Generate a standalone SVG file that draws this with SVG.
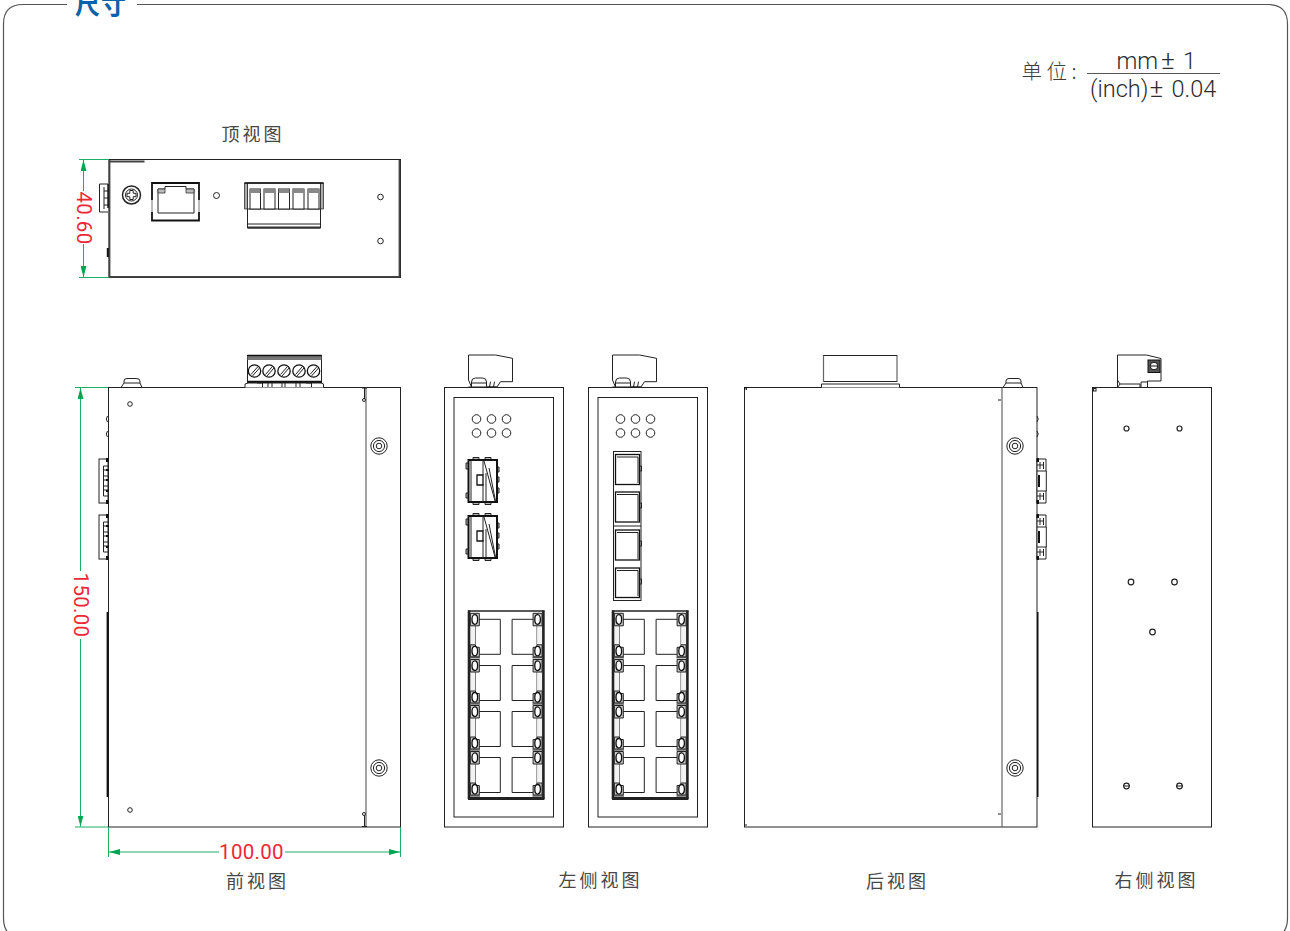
<svg xmlns="http://www.w3.org/2000/svg" xmlns:xlink="http://www.w3.org/1999/xlink" width="1290" height="931" viewBox="0 0 1290 931">
<style>
.l{fill:none;stroke:#222;stroke-width:1}
.w{fill:#fff;stroke:#222;stroke-width:1}
.t{fill:none;stroke:#111;stroke-width:1.8}
.k{fill:#111;stroke:none}
.g{fill:none;stroke:#1fae66;stroke-width:1}
.gs{fill:none;stroke:#1fae66;stroke-width:1;marker-end:url(#ar)}
.d{font-family:Roboto,"Liberation Sans",Arial,sans-serif;font-size:20.500px;font-weight:400;fill:#ee2737;text-anchor:middle;letter-spacing:.3px}
.c{font-family:"Noto Sans CJK SC","Noto Sans",sans-serif;font-size:18px;fill:#484848;text-anchor:middle;letter-spacing:3px}
.u{font-family:Roboto,"Liberation Sans",Arial,sans-serif;font-size:23.500px;font-weight:300;fill:#2c2c2c}
</style>
<defs>
<marker id="ar" markerUnits="userSpaceOnUse" markerWidth="12" markerHeight="6" refX="11" refY="3" orient="auto"><path d="M0 0L11 3L0 6Z" fill="#00a651"/></marker>
<g id="rjh">
<path d="M7.300 12.500V31.500" stroke="#222" fill="none"/>
<path d="M2.300 12.500H7.300V31.500H2.300Z" fill="#f2f2f2"/>
<path d="M2.300 0H11.300V12.500H2.300Z" fill="#ccc" stroke="#222"/><ellipse cx="6.800" cy="6.200" rx="2.800" ry="4.800" fill="#fff" stroke="#111" stroke-width="1.300"/>
<path class="l" d="M11.300 6H32.300V41H11.300"/>
<path d="M2.300 31.500H7.500V34H11.300V43.500H2.300Z" fill="#ccc" stroke="#222"/><ellipse cx="6.800" cy="37.800" rx="2.800" ry="4.800" fill="#fff" stroke="#111" stroke-width="1.300"/>
</g>
<g id="rjr"><use href="#rjh"/><use href="#rjh" transform="translate(76.400 0) scale(-1 1)"/><path class="l" d="M2 44.500H12M64.400 44.500H74.400" stroke-width="1.500"/></g>
<g id="rjb">
<rect x="0" y="0" width="76.400" height="188.500" fill="#fff"/>
<use href="#rjr" y="2.800"/><use href="#rjr" y="49"/><use href="#rjr" y="95"/><use href="#rjr" y="141"/>
<path d="M0 0.500H76.400" stroke="#222" stroke-width="1.500" fill="none"/>
<path d="M1 0V188.500M75.400 0V188.500" stroke="#222" stroke-width="2.600" fill="none"/>
<path d="M0 188H76.400" stroke="#222" stroke-width="3" fill="none"/>
</g>
<g id="sfp">
<path class="w" d="M5 0V-2.500H11V0M17 0V-2.500H23V0M5 42V44.500H11V42M17 42V44.500H23V42M0 3H-2V9H0M0 33H-2V38H0M29 7H31V12H29M29 17H31V22H29M29 28H31V33H29" style="fill:#bbb"/>
<rect x="0.500" y="0" width="28.500" height="42" fill="#fff" stroke="#111" stroke-width="2"/>
<path class="l" d="M3 0V42M15 0V15M15 24V42M18 13V42M16 1L27 41M21 8L27.500 41"/>
<path d="M9 15H15V25H9Z" fill="#fff" stroke="#111" stroke-width="1.300"/>
</g>
<g id="ledg"><circle class="l" cx="0" cy="0" r="4.300"/><circle class="l" cx="15" cy="0" r="4.300"/><circle class="l" cx="30" cy="0" r="4.300"/><circle class="l" cx="0" cy="14" r="4.300"/><circle class="l" cx="15" cy="14" r="4.300"/><circle class="l" cx="30" cy="14" r="4.300"/></g>
<g id="conc"><circle class="l" r="8.200"/><circle class="l" r="5.600"/><circle class="l" r="2.800"/></g>
<g id="sfpl">
<rect class="w" x="0" y="0" width="9" height="44"/>
<path class="l" d="M4.500 7V37M9 7H4.500M9 11H4.500M9 17H4.500M9 21H4.500M9 27H4.500M9 31H4.500M9 37H4.500"/>
<path class="k" d="M7 -1H9.500V3H7ZM7 10H9.500V12H7ZM7 20H9.500V22H7ZM7 31H9.500V33H7ZM7 41H9.500V45H7Z"/>
</g>
<g id="sfpr">
<path class="w" d="M0 0H9V12H9.300V32H9V44H0Z"/>
<path class="l" d="M0 12H9M0 32H9M3 3V10M3 34V41M6.500 3V10M6.500 34V41M0 6H6.500M0 37H6.500"/>
<path class="k" d="M-0.500 -1H2V3H-0.500ZM-0.500 41H2V45H-0.500ZM1 16H3V28H1Z"/>
</g>
<g id="topc">
<path class="w" d="M0 25V0H27L44 3.300V26.700H32L28.500 32H3L0 25Z"/>
<path class="w" d="M3 32V27Q3 23 7 23H14Q18 23 18 27V32"/>
<path class="l" d="M0 32H28M22 26.700L21 32M26 26.700L25 32"/>
<path d="M3 28H18" stroke="#222"/>
</g>
</defs>

<g id="frame">
<path class="l" style="stroke:#555;stroke-width:1.200" d="M67 4.500H23Q3.500 4.500 3.500 24V918Q3.500 938 23 938H1268Q1287.500 938 1287.500 918V24Q1287.500 4.500 1268 4.500H137"/>
<text x="101" y="14" style="font-family:'Noto Sans CJK SC',sans-serif;font-size:25px;font-weight:700;fill:#0a62a9;text-anchor:middle;letter-spacing:1px">尺寸</text>
</g>

<g id="unit">
<text x="1021.500" y="79" style="font-family:'Noto Sans CJK SC',sans-serif;font-size:20.500px;fill:#3c3c3c;font-weight:300;letter-spacing:4.500px">单位:</text>
<text class="u" x="1116.500" y="69">mm</text><text class="u" x="1161" y="69" style="font-size:26px">±</text><text class="u" x="1183" y="69">1</text>
<path d="M1087 73.500H1220" stroke="#555" stroke-width="1.200" fill="none"/>
<text class="u" x="1090" y="97">(inch)</text><text class="u" x="1149.500" y="97" style="font-size:26px">±</text><text class="u" x="1171.500" y="97">0.04</text>
</g>

<g id="top-view">
<rect class="l" x="109" y="159.500" width="291.500" height="118"/>
<path d="M109 161.500H144.500M399.500 160V277M109 276.800H400M109.500 160V277" stroke="#444" stroke-width="1.800" fill="none"/>
<path class="w" d="M108 184H99.500V212H108"/>
<path class="l" d="M104 187V209M104 191H109M104 198H109M104 205H109"/>
<path class="k" d="M107.300 184H108.800V208H107.300ZM106.800 248H108.800V257H106.800Z"/>
<circle cx="131.500" cy="195" r="9" fill="#fff" stroke="#222" stroke-width="1.500"/><circle class="l" cx="131.500" cy="195" r="6"/><path class="l" d="M129.800 190.500H133.200V193.300H136V196.700H133.200V199.500H129.800V196.700H127V193.300H129.800Z"/>
<path d="M152 200V183H199V200M152 212V220.500H199V212" stroke="#111" stroke-width="1.800" fill="none"/>
<path d="M152 200V212M199 200V212" stroke="#777" fill="none"/>
<path class="l" d="M158 213V189H165V186.500H186V189H194V213Z"/>
<path d="M158 189H165V193H158ZM186 189H194V193H186Z" fill="#bbb" stroke="#333" stroke-width=".8"/>
<circle class="l" cx="216.500" cy="195.500" r="3"/><circle class="l" cx="380.500" cy="197" r="2.800"/><circle class="l" cx="380.500" cy="241" r="2.800"/>
<path class="w" d="M247.500 183H320.500V228H247.500Z"/>
<path d="M244.500 183H247.500V209H244.500ZM320.500 183H323.500V209H320.500Z" fill="#aaa" stroke="#333" stroke-width=".8"/>
<path d="M244.500 183H323.500" stroke="#111" stroke-width="1.500" fill="none"/>
<path d="M247.500 227.500H320.500" stroke="#333" stroke-width="2"/>
<path class="l" d="M247.500 209H320.500M247.500 224H320.500"/>
<g fill="#fff" stroke="#222" stroke-width="1"><rect x="250" y="189" width="10.500" height="20"/><rect x="264" y="189" width="11" height="20"/><rect x="278.500" y="189" width="11" height="20"/><rect x="293" y="189" width="11" height="20"/><rect x="308" y="189" width="11" height="20"/></g>
<path d="M250 189H260.500V193H250ZM264 189H275V193H264ZM278.500 189H289.500V193H278.500ZM293 189H304V193H293ZM308 189H319V193H308Z" fill="#888"/>
</g>

<g id="front-view">
<rect class="l" x="108.500" y="387.500" width="292" height="439.500"/>
<path d="M366 387.500V827" stroke="#666" stroke-width="1.200"/>
<path d="M362 388H367M364.500 388V399M362 826.500H367M364.500 826.500V815" class="l"/><circle class="l" cx="364" cy="400" r="1.500"/><circle class="l" cx="364" cy="814" r="1.500"/>
<path class="w" d="M121 387.500L124 383V381Q124 378.500 127 378.500H136Q140 378.500 140 381V383L142 387.500Z"/><path class="l" d="M124 383H140"/>
<circle class="l" cx="130" cy="404" r="2.300"/><circle class="l" cx="130" cy="810" r="2.300"/>
<path class="w" d="M107.500 416Q105 419 107.500 422M107.500 431Q105 434 107.500 437"/>
<use href="#sfpl" x="99" y="459"/><use href="#sfpl" x="99" y="515"/>
<path class="k" d="M106.600 612H108.500V797H106.600Z"/>
<use href="#conc" x="379" y="446"/><use href="#conc" x="379" y="768"/>
<rect class="w" x="247.500" y="355.500" width="74" height="27"/>
<path d="M247.500 358H321.500" stroke="#777" stroke-width="4"/>
<path d="M247.500 355.500H321.500" stroke="#111" stroke-width="1.500"/>
<path d="M247.500 382H321.500" stroke="#111" stroke-width="2.500"/>
<g fill="#fff" stroke="#111" stroke-width="1.300"><circle cx="254.500" cy="371" r="6.200"/><circle cx="269" cy="371" r="6.200"/><circle cx="284" cy="371" r="6.200"/><circle cx="299" cy="371" r="6.200"/><circle cx="313.500" cy="371" r="6.200"/></g>
<path class="l" d="M251 374.500L258 366.500M252.500 376L259.500 368M265.500 374.500L272.500 366.500M267 376L274 368M280.500 374.500L287.500 366.500M282 376L289 368M295.500 374.500L302.500 366.500M297 376L304 368M310 374.500L317 366.500M311.500 376L318.500 368"/>
<path class="w" d="M245 387.500V384L248 383H321L323.500 384V387.500"/>
<path class="l" d="M257 383H262.500V387M268 383V387M272 383V387M282 383V387M285 383V387M296 383V387M300 383V387M306 383H311.500V387"/>
</g>

<g id="left-view">
<rect class="l" x="444.500" y="387.500" width="119" height="439.500"/>
<rect class="l" x="454" y="397.500" width="99.500" height="419.500"/>
<use href="#topc" x="468.500" y="355"/>
<use href="#ledg" x="476.500" y="419"/>
<use href="#sfp" x="468" y="460"/><use href="#sfp" x="468" y="516"/>
<use href="#rjb" x="468" y="610.500"/>
</g>

<g id="second-view">
<rect class="l" x="588.500" y="387.500" width="119" height="439.500"/>
<rect class="l" x="598" y="397.500" width="99.500" height="419.500"/>
<use href="#topc" x="612.500" y="355"/>
<use href="#ledg" x="620.500" y="419"/>
<rect class="l" x="613.500" y="451.500" width="27.500" height="149"/>
<g fill="#fff" stroke="#111" stroke-width="1.300"><rect x="615.500" y="454.500" width="24" height="30"/><rect x="615.500" y="492" width="24" height="30"/><rect x="615.500" y="530" width="24" height="30"/><rect x="615.500" y="568" width="24" height="29.500"/></g>
<path class="l" d="M617 457H638V483M617 494.500H638V521M617 532.500H638V559M617 570.500H638V596M613.500 526H641M639.500 466H641.500V471H639.500M639.500 503H641.500V508H639.500M639.500 541H641.500V546H639.500M639.500 579H641.500V584H639.500"/>
<use href="#rjb" x="612" y="610.500"/>
</g>

<g id="back-view">
<rect class="l" x="744.500" y="387.500" width="292.500" height="439.500"/>
<path d="M1002 387.500V827" stroke="#666" stroke-width="1.200"/>
<path class="l" d="M998 400H1001M998 814H1001M744.500 825H747"/>
<rect class="k" x="744" y="387" width="3" height="3"/><rect x="745" y="388.500" width="1.200" height="1.200" fill="#fff"/>
<path d="M823.500 382V355.500H897V382" fill="#fff" stroke="#666" stroke-width="1.200"/><path d="M823.500 355.500H897" stroke="#222" fill="none"/>
<path class="w" d="M821.500 387.500V384H899.500V387.500"/><path class="l" d="M824 381.500H897"/>
<path class="w" d="M1003 387.500L1006 383V381Q1006 378.500 1009 378.500H1018Q1021 378.500 1021 381V383L1023 387.500Z"/><path class="l" d="M1006 383H1021"/>
<use href="#conc" x="1015" y="446"/><use href="#conc" x="1015" y="768"/>
<path class="l" d="M1037 416Q1039.500 419 1037 422M1037 431Q1039.500 434 1037 437"/>
<use href="#sfpr" x="1037" y="459"/><use href="#sfpr" x="1037" y="515"/>
<path class="k" d="M1037 612H1038.500V797H1037Z"/>
</g>

<g id="right-view">
<rect class="l" x="1092.500" y="387.500" width="119" height="439.500"/>
<rect class="l" x="1093.500" y="388.500" width="2.500" height="2.500"/>
<path class="w" d="M1117.500 380V355H1146.500L1161 358.500V381H1147.500V387.500H1140V384H1120L1117.500 387.500Z"/>
<path class="l" d="M1141 387V382H1147.500M1117.500 380L1120 384"/>
<rect x="1148" y="360" width="12" height="12.500" fill="#555" stroke="#111"/><circle cx="1154" cy="366" r="3.800" fill="#fff" stroke="#111"/><path d="M1151 366H1157" stroke="#111"/>
<g class="l" style="stroke-width:1.200"><circle cx="1126.500" cy="428.500" r="2.500"/><circle cx="1179.500" cy="428.500" r="2.500"/><circle cx="1131" cy="582" r="2.800"/><circle cx="1174.500" cy="582" r="2.800"/><circle cx="1152.500" cy="632" r="2.800"/><circle cx="1126.500" cy="786" r="2.800"/><circle cx="1179.500" cy="786" r="2.800"/></g>
<path class="l" d="M1123 786H1130M1176 786H1183"/>
</g>

<g id="connectors">
<path class="g" d="M79 159.500H109M79 277.500H109"/>
<path class="gs" d="M83.500 191V160"/><path class="gs" d="M83.500 244V277"/>
<path class="g" d="M75 387.500H108M75 827H108M108.500 827V857M400.500 827V857"/>
<path class="gs" d="M80.500 571V388"/><path class="gs" d="M80.500 639V826.500"/>
<path class="gs" d="M219 852H109"/><path class="gs" d="M285 852H400"/>
</g>

<g id="labels">
<text class="d" transform="translate(77 218) rotate(90)">40.60</text>
<text class="d" transform="translate(73.500 605) rotate(90)">150.00</text>
<text class="d" x="251.500" y="859">100.00</text>
<text class="c" x="253" y="141">顶视图</text>
<text class="c" x="257.500" y="887.500">前视图</text>
<text class="c" x="600.500" y="886.500">左侧视图</text>
<text class="c" x="897.500" y="888">后视图</text>
<text class="c" x="1156.500" y="886.500">右侧视图</text>
</g>
</svg>
